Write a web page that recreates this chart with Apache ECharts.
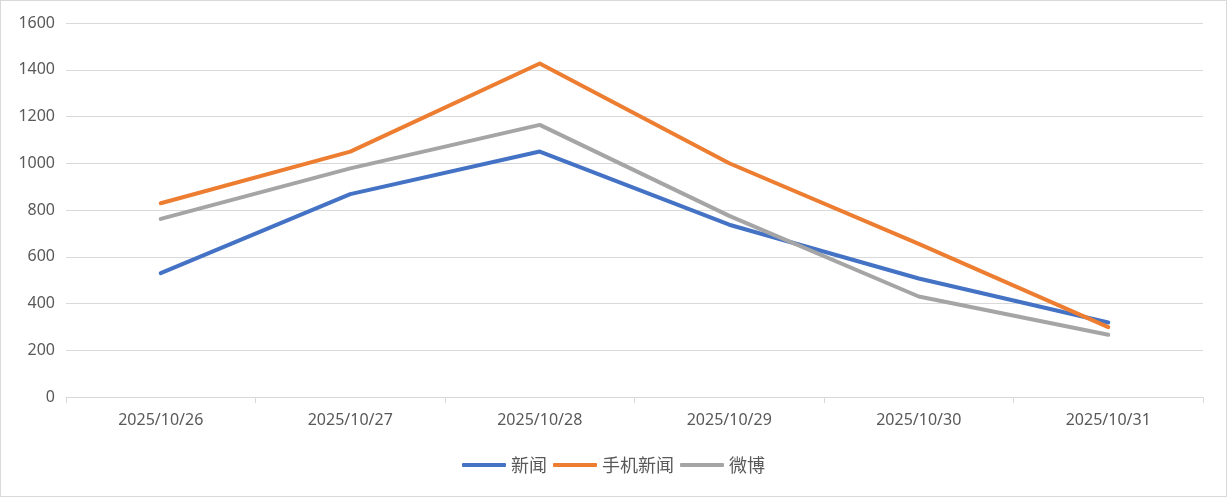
<!DOCTYPE html>
<html>
<head>
<meta charset="utf-8">
<script src="https://cdn.jsdelivr.net/npm/echarts@6/dist/echarts.min.js"></script>
<style>
html,body{margin:0;padding:0;background:#fff;}
#wrap{position:relative;width:1227px;height:497px;}
#chart{position:absolute;left:0;top:0;width:1227px;height:497px;}
#border{position:absolute;left:0;top:0;width:1227px;height:497px;box-sizing:border-box;border:1px solid #d9d9d9;pointer-events:none;}
</style>
</head>
<body>
<div id="wrap"><div id="chart"></div><div id="border"></div></div>
<script>
const categories = ['2025/10/26','2025/10/27','2025/10/28','2025/10/29','2025/10/30','2025/10/31'];
const newsValues = [530, 868, 1050, 737, 507, 319];
const mobileNewsValues = [829, 1050, 1427, 1000, 655, 299];
const weiboValues = [762, 978, 1164, 775, 430, 266];
const seriesNames = ['新闻', '手机新闻', '微博'];
const colors = ['#4472C4', '#ED7D31', '#A5A5A5'];

const chart = echarts.init(document.getElementById('chart'));
const font = '"Noto Sans", "Noto Sans CJK SC", sans-serif';
const mk = (name, data, color) => ({
  name, type: 'line', data,
  showSymbol: false, symbol: 'none',
  lineStyle: { width: 4, color, cap: 'round', join: 'round' },
  itemStyle: { color },
  emphasis: { disabled: true }
});
chart.setOption({
  animation: false,
  textStyle: { fontFamily: font },
  grid: { left: 66, right: 24, top: 23, bottom: 100, containLabel: false },
  legend: {
    data: seriesNames,
    bottom: 18,
    left: 'center',
    icon: 'roundRect',
    itemWidth: 44,
    itemHeight: 4,
    itemGap: 6,
    textStyle: { color: '#595959', fontSize: 18, fontFamily: '"Noto Sans CJK SC", sans-serif' }
  },
  xAxis: {
    type: 'category',
    data: categories,
    boundaryGap: true,
    axisLine: { lineStyle: { color: '#d9d9d9', width: 1 } },
    axisTick: { show: true, length: 6, lineStyle: { color: '#d9d9d9' } },
    axisLabel: { color: '#595959', fontSize: 16, margin: 15 },
    splitLine: { show: false }
  },
  yAxis: {
    type: 'value',
    min: 0, max: 1600, interval: 200,
    axisLine: { show: false },
    axisTick: { show: false },
    axisLabel: { color: '#595959', fontSize: 16, margin: 11, formatter: v => String(v) },
    splitLine: { lineStyle: { color: '#d9d9d9', width: 1 } }
  },
  series: [
    mk(seriesNames[0], newsValues, colors[0]),
    mk(seriesNames[1], mobileNewsValues, colors[1]),
    mk(seriesNames[2], weiboValues, colors[2])
  ]
});
</script>
</body>
</html>
